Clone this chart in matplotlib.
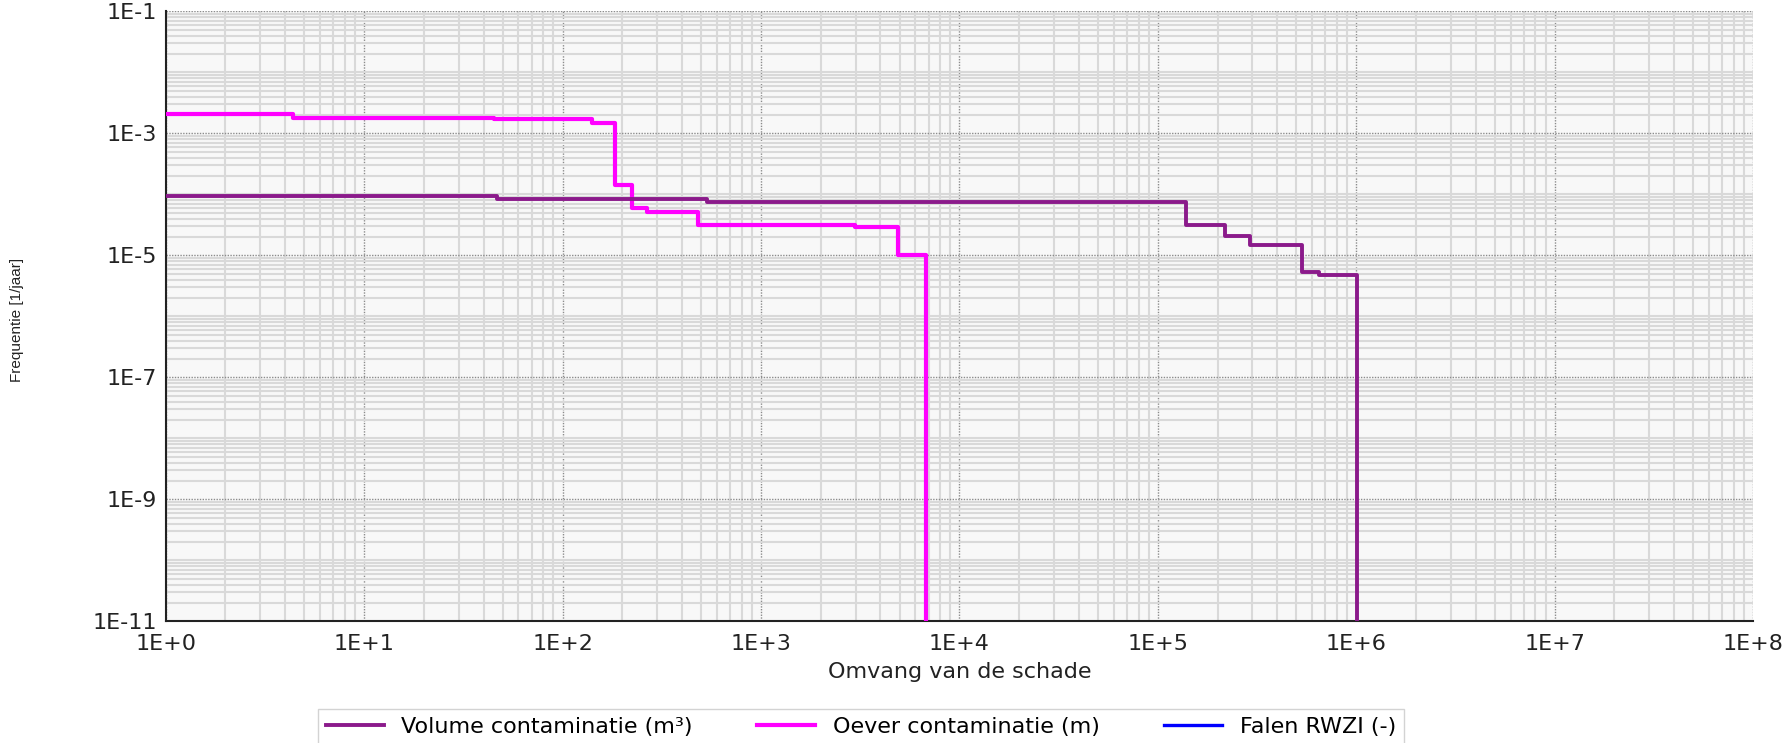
import numpy as np
import matplotlib
matplotlib.use("Agg")
import matplotlib.pyplot as plt
from matplotlib.ticker import FixedLocator, LogLocator, FuncFormatter, NullFormatter

# values (step breakpoints, steps-post)
volume_x = [1, 47, 533, 1.39e5, 2.19e5, 2.92e5, 5.32e5, 6.46e5, 1.007e6]
volume_y = [9.26e-5, 8.4e-5, 7.6e-5, 3.15e-5, 2.08e-5, 1.48e-5, 5.4e-6, 4.77e-6, 1e-12]

oever_x = [1, 4.4, 45, 140, 183, 223, 266, 484, 2990, 4900, 6800]
oever_y = [2.05e-3, 1.81e-3, 1.70e-3, 1.47e-3, 1.43e-4, 5.9e-5, 5.2e-5, 3.15e-5, 2.96e-5, 1.0e-5, 1e-12]

rwzi_x = []
rwzi_y = []

labels = ['Volume contaminatie (m³)', 'Oever contaminatie (m)', 'Falen RWZI (-)']
x_major = [10.0**k for k in range(0, 9)]
y_major = [10.0**k for k in range(-11, 0, 2)]

plt.rcParams['font.family'] = ['DejaVu Sans']

fig = plt.figure(figsize=(17.91, 7.43), dpi=100)
ax = fig.add_axes([0.0925, 0.1637, 0.8863, 0.821])
ax.set_facecolor('#f8f8f8')

l1, = ax.plot(volume_x, volume_y, drawstyle='steps-post', color='#8b1a8b', lw=2.8, zorder=5)
l2, = ax.plot(oever_x, oever_y, drawstyle='steps-post', color='#ff00ff', lw=3.0, zorder=4)
l3, = ax.plot(rwzi_x, rwzi_y, color='#0000ff', lw=2.4, zorder=3)

ax.set_xscale('log')
ax.set_yscale('log')
ax.set_xlim(1, 1e8)
ax.set_ylim(1e-11, 1e-1)

fmt = FuncFormatter(lambda v, p: '1E%+d' % int(round(np.log10(v))))
ax.xaxis.set_major_locator(FixedLocator(x_major))
ax.yaxis.set_major_locator(FixedLocator(y_major))
ax.xaxis.set_minor_locator(LogLocator(base=10, subs=np.arange(2, 10), numticks=100))
ax.yaxis.set_minor_locator(LogLocator(base=10, subs=np.arange(1, 10), numticks=100))
ax.xaxis.set_major_formatter(fmt)
ax.yaxis.set_major_formatter(fmt)
ax.xaxis.set_minor_formatter(NullFormatter())
ax.yaxis.set_minor_formatter(NullFormatter())

ax.grid(which='minor', color='#d9d9d9', lw=1.5, ls='-', zorder=0)
ax.grid(which='major', color='#8c8c8c', lw=1.0, ls=(0, (1, 1)), zorder=1)
ax.set_axisbelow(True)

ax.tick_params(which='both', length=0)
ax.tick_params(axis='y', labelsize=16, pad=6, colors='#222222')
ax.tick_params(axis='x', labelsize=16, pad=9, colors='#222222')

for s in ['top', 'right']:
    ax.spines[s].set_visible(False)
for s in ['left', 'bottom']:
    ax.spines[s].set_color('#222222')
    ax.spines[s].set_linewidth(1.5)

fig.text(960 / 1791, 1 - 672 / 743, 'Omvang van de schade', ha='center', va='center',
         fontsize=16, color='#222222')
fig.text(17 / 1791, 1 - 320 / 743, 'Frequentie [1/jaar]', ha='center', va='center',
         rotation=90, fontsize=11, color='#222222', family='Liberation Sans')

leg = fig.legend([l1, l2, l3], labels, loc='upper left',
                 bbox_to_anchor=(318 / 1791, 1 - 709 / 743), ncol=3, fontsize=16,
                 frameon=True, fancybox=False, handlelength=2.6, handletextpad=0.8,
                 columnspacing=2.9, borderpad=0.35, borderaxespad=0)
leg.get_frame().set_edgecolor('#c8c8c8')
leg.get_frame().set_linewidth(1.0)

plt.savefig('out.png', dpi=100)
plt.close('all')
